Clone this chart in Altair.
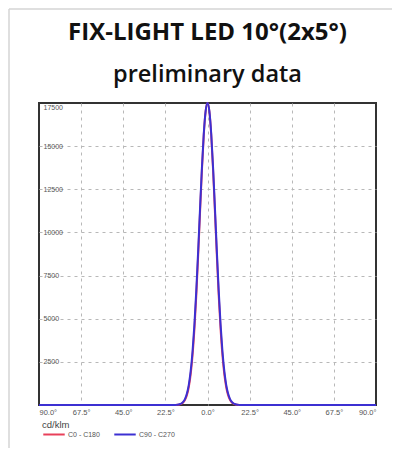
import altair as alt
import pandas as pd

title_text = "FIX-LIGHT LED 10°(2x5°)"
subtitle_text = "preliminary data"

angles = [-90, -25, -20, -19, -18, -17, -16, -15, -14, -13, -12, -11, -10, -9, -8, -7, -6, -5, -4, -3, -2, -1,
          0, 1, 2, 3, 4, 5, 6, 7, 8, 9, 10, 11, 12, 13, 14, 15, 16, 17, 18, 19, 20, 25, 90]
c0_c180 = [0, 0, 0, 0, 2, 5, 12, 30, 67, 145, 296, 567, 1029, 1762, 2852, 4364, 6307, 8617, 11120, 13559, 15624, 17012,
           17500, 17012, 15624, 13559, 11120, 8617, 6307, 4364, 2852, 1762, 1029, 567, 296, 145, 67, 30, 12, 5, 2, 0, 0, 0, 0]
c90_c270 = [0, 0, 0, 1, 3, 7, 17, 40, 87, 181, 356, 663, 1171, 1959, 3101, 4652, 6611, 8900, 11354, 13720, 15707, 17033,
            17500, 17033, 15707, 13720, 11354, 8900, 6611, 4652, 3101, 1959, 1171, 663, 356, 181, 87, 40, 17, 7, 3, 1, 0, 0, 0]
series_names = ["C0 - C180", "C90 - C270"]
series_colors = ["#e8405a", "#3c30d2"]
x_ticks = [-90, -67.5, -45, -22.5, 0, 22.5, 45, 67.5, 90]
y_ticks = [2500, 5000, 7500, 10000, 12500, 15000, 17500]

rows = []
for a, v in zip(angles, c0_c180):
    rows.append({"angle": a, "value": v, "series": series_names[0]})
for a, v in zip(angles, c90_c270):
    rows.append({"angle": a, "value": v, "series": series_names[1]})
df = pd.DataFrame(rows)

label_font = "Liberation Sans"
x_grid_hide = {"condition": {"test": "abs(datum.value) >= 90", "value": 0}, "value": 1}
y_grid_hide = {"condition": {"test": "datum.value >= 17500", "value": 0}, "value": 1}

lines = alt.Chart(df).mark_line(strokeWidth=2, interpolate="monotone").encode(
    x=alt.X("angle:Q", scale=alt.Scale(domain=[-90, 90], nice=False, zero=False),
            axis=alt.Axis(values=x_ticks, title=None, labelExpr="format(abs(datum.value), '.1f') + '°'",
                          labelFlush=True, labelFont=label_font, labelFontSize=7.5, labelColor="#555",
                          ticks=False, domain=False, labelPadding=3,
                          grid=True, gridDash=[3, 4], gridColor="#b8b8b8", gridWidth=1,
                          gridOpacity=x_grid_hide)),
    y=alt.Y("value:Q", scale=alt.Scale(domain=[0, 17500], nice=False),
            axis=alt.Axis(values=y_ticks, title=None, format="d", labelAlign="left", labelPadding=-4,
                          labelFlush=True, labelFont=label_font, labelFontSize=7, labelColor="#555",
                          ticks=False, domain=False,
                          grid=True, gridDash=[3, 4], gridColor="#b8b8b8", gridWidth=1,
                          gridOpacity=y_grid_hide)),
    color=alt.Color("series:N", scale=alt.Scale(domain=series_names, range=series_colors),
                    legend=alt.Legend(title="cd/klm", orient="none", legendX=3, legendY=317,
                                      direction="horizontal", symbolType="stroke", symbolStrokeWidth=2,
                                      symbolSize=460, titleFont=label_font, titleFontSize=9.5,
                                      titleFontWeight="normal", titleColor="#444", titlePadding=-7,
                                      labelFont=label_font, labelFontSize=7, labelColor="#555",
                                      columnPadding=10, labelOffset=2)),
)

titles_df = pd.DataFrame({"t": [title_text]})
subtitles_df = pd.DataFrame({"t": [subtitle_text]})
title_mark = alt.Chart(titles_df).mark_text(font="Open Sans", fontSize=24, fontWeight="bold", color="#111",
                                             align="center", baseline="middle").encode(
    text="t:N", x=alt.value(168.5), y=alt.value(-70))
subtitle_mark = alt.Chart(subtitles_df).mark_text(font="Open Sans", fontSize=23.5, fontWeight=600, color="#111",
                                                   align="center", baseline="middle").encode(
    text="t:N", x=alt.value(168.5), y=alt.value(-28))

border_df = pd.DataFrame({"k": [0]})
card_top = alt.Chart(border_df).mark_rule(color="#d4d4d4", strokeWidth=1.5).encode(
    x=alt.value(-30), x2=alt.value(353), y=alt.value(-94))
card_left = alt.Chart(border_df).mark_rule(color="#d4d4d4", strokeWidth=1.5).encode(
    x=alt.value(-30), y=alt.value(-94), y2=alt.value(345))

chart = alt.layer(card_top, card_left, title_mark, subtitle_mark, lines).properties(
    width=337, height=302,
    padding={"left": 31, "top": 95, "right": 16, "bottom": 43},
    autosize=alt.AutoSizeParams(type="none"),
).configure_view(stroke="#333", strokeWidth=2)

chart.save("out.html", embed_options={"renderer": "svg", "actions": False})
